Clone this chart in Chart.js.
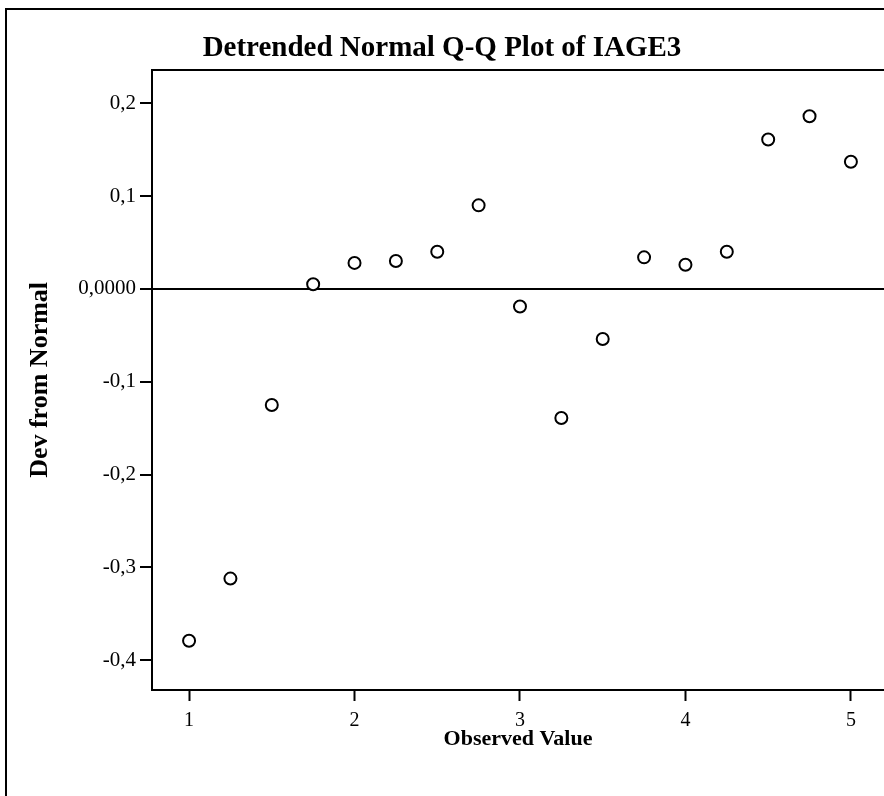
<!DOCTYPE html>
<html>
<head>
<meta charset="utf-8">
<script src="https://cdn.jsdelivr.net/npm/chart.js@4/dist/chart.umd.min.js"></script>
<style>
  html, body { margin: 0; padding: 0; background: #fff; overflow: hidden; }
  #wrap { position: relative; width: 884px; height: 796px; }
  #frame { position: absolute; left: 5px; top: 8px; right: -10px; bottom: -10px;
           border-left: 2px solid #000; border-top: 2px solid #000; pointer-events: none; }
</style>
</head>
<body>
<div id="wrap">
  <canvas id="chart" width="884" height="796"></canvas>
  <div id="frame"></div>
</div>
<script>
// observed values and their deviation from normal
const observed = [1, 1.25, 1.5, 1.75, 2, 2.25, 2.5, 2.75, 3, 3.25, 3.5, 3.75, 4, 4.25, 4.5, 4.75, 5];
const deviation = [-0.379, -0.312, -0.125, 0.005, 0.028, 0.030, 0.040, 0.090, -0.019, -0.139,
                   -0.054, 0.034, 0.026, 0.040, 0.161, 0.186, 0.137];

const xTicks = [1, 2, 3, 4, 5];
const yTicks = [0.2, 0.1, 0, -0.1, -0.2, -0.3, -0.4];
const yTickLabels = ["0,2", "0,1", "0,0000", "-0,1", "-0,2", "-0,3", "-0,4"];

const serif = "'Liberation Serif', 'Times New Roman', serif";

new Chart(document.getElementById("chart"), {
  type: "scatter",
  data: {
    datasets: [
      {
        label: "IAGE3",
        data: observed.map((x, i) => ({ x, y: deviation[i] })),
        pointStyle: "circle",
        pointRadius: 6,
        pointBorderWidth: 2,
        pointBackgroundColor: "#fff",
        pointBorderColor: "#000",
      },
    ],
  },
  options: {
    responsive: false,
    animation: false,
    layout: { padding: 0, autoPadding: false },
    plugins: {
      legend: { display: false },
      tooltip: { enabled: false },
      title: {
        display: true,
        text: "Detrended Normal Q-Q Plot of IAGE3",
        color: "#000",
        font: { family: serif, size: 29, weight: "bold", lineHeight: 1.2 },
        padding: { top: 31, bottom: 4 },
      },
    },
    scales: {
      x: {
        type: "linear",
        position: "bottom",
        min: 0.776,
        max: 5.2,
        afterBuildTicks: (scale) => {
          scale.ticks = xTicks.map((v) => ({ value: v }));
        },
        afterFit: (scale) => {
          scale.height = 106;
        },
        ticks: {
          color: "#000",
          font: { family: serif, size: 20 },
          padding: 8,
          maxRotation: 0,
          callback: (value) => String(value),
        },
        grid: {
          color: "rgba(0,0,0,0)",
          tickColor: "#000",
          tickWidth: 2,
          tickLength: 11,
        },
        border: { display: true, color: "#000", width: 2 },
        title: {
          display: true,
          text: "Observed Value",
          color: "#000",
          font: { family: serif, size: 22, weight: "bold", lineHeight: 1.2 },
          padding: { top: 0, bottom: 43 },
        },
      },
      xTop: {
        type: "linear",
        position: "top",
        display: true,
        afterFit: (scale) => {
          scale.height = 0;
        },
        ticks: { display: false, padding: 0 },
        grid: { display: false },
        border: { display: true, color: "#000", width: 2 },
      },
      y: {
        type: "linear",
        position: "left",
        min: -0.432,
        max: 0.236,
        afterBuildTicks: (scale) => {
          scale.ticks = yTicks.map((v) => ({ value: v }));
        },
        afterFit: (scale) => {
          scale.width = 152;
        },
        ticks: {
          color: "#000",
          font: { family: serif, size: 21 },
          padding: 4,
          callback: (value) => yTickLabels[yTicks.indexOf(value)] ?? "",
        },
        grid: {
          color: (ctx) => (ctx.tick && ctx.tick.value === 0 ? "#000" : "rgba(0,0,0,0)"),
          lineWidth: 2,
          tickColor: "#000",
          tickWidth: 2,
          tickLength: 12,
        },
        border: { display: true, color: "#000", width: 2 },
        title: {
          display: true,
          text: "Dev from Normal",
          color: "#000",
          font: { family: serif, size: 26, weight: "bold", lineHeight: 1.2 },
          padding: { top: 25, bottom: 0 },
        },
      },
    },
  },
});
</script>
</body>
</html>
